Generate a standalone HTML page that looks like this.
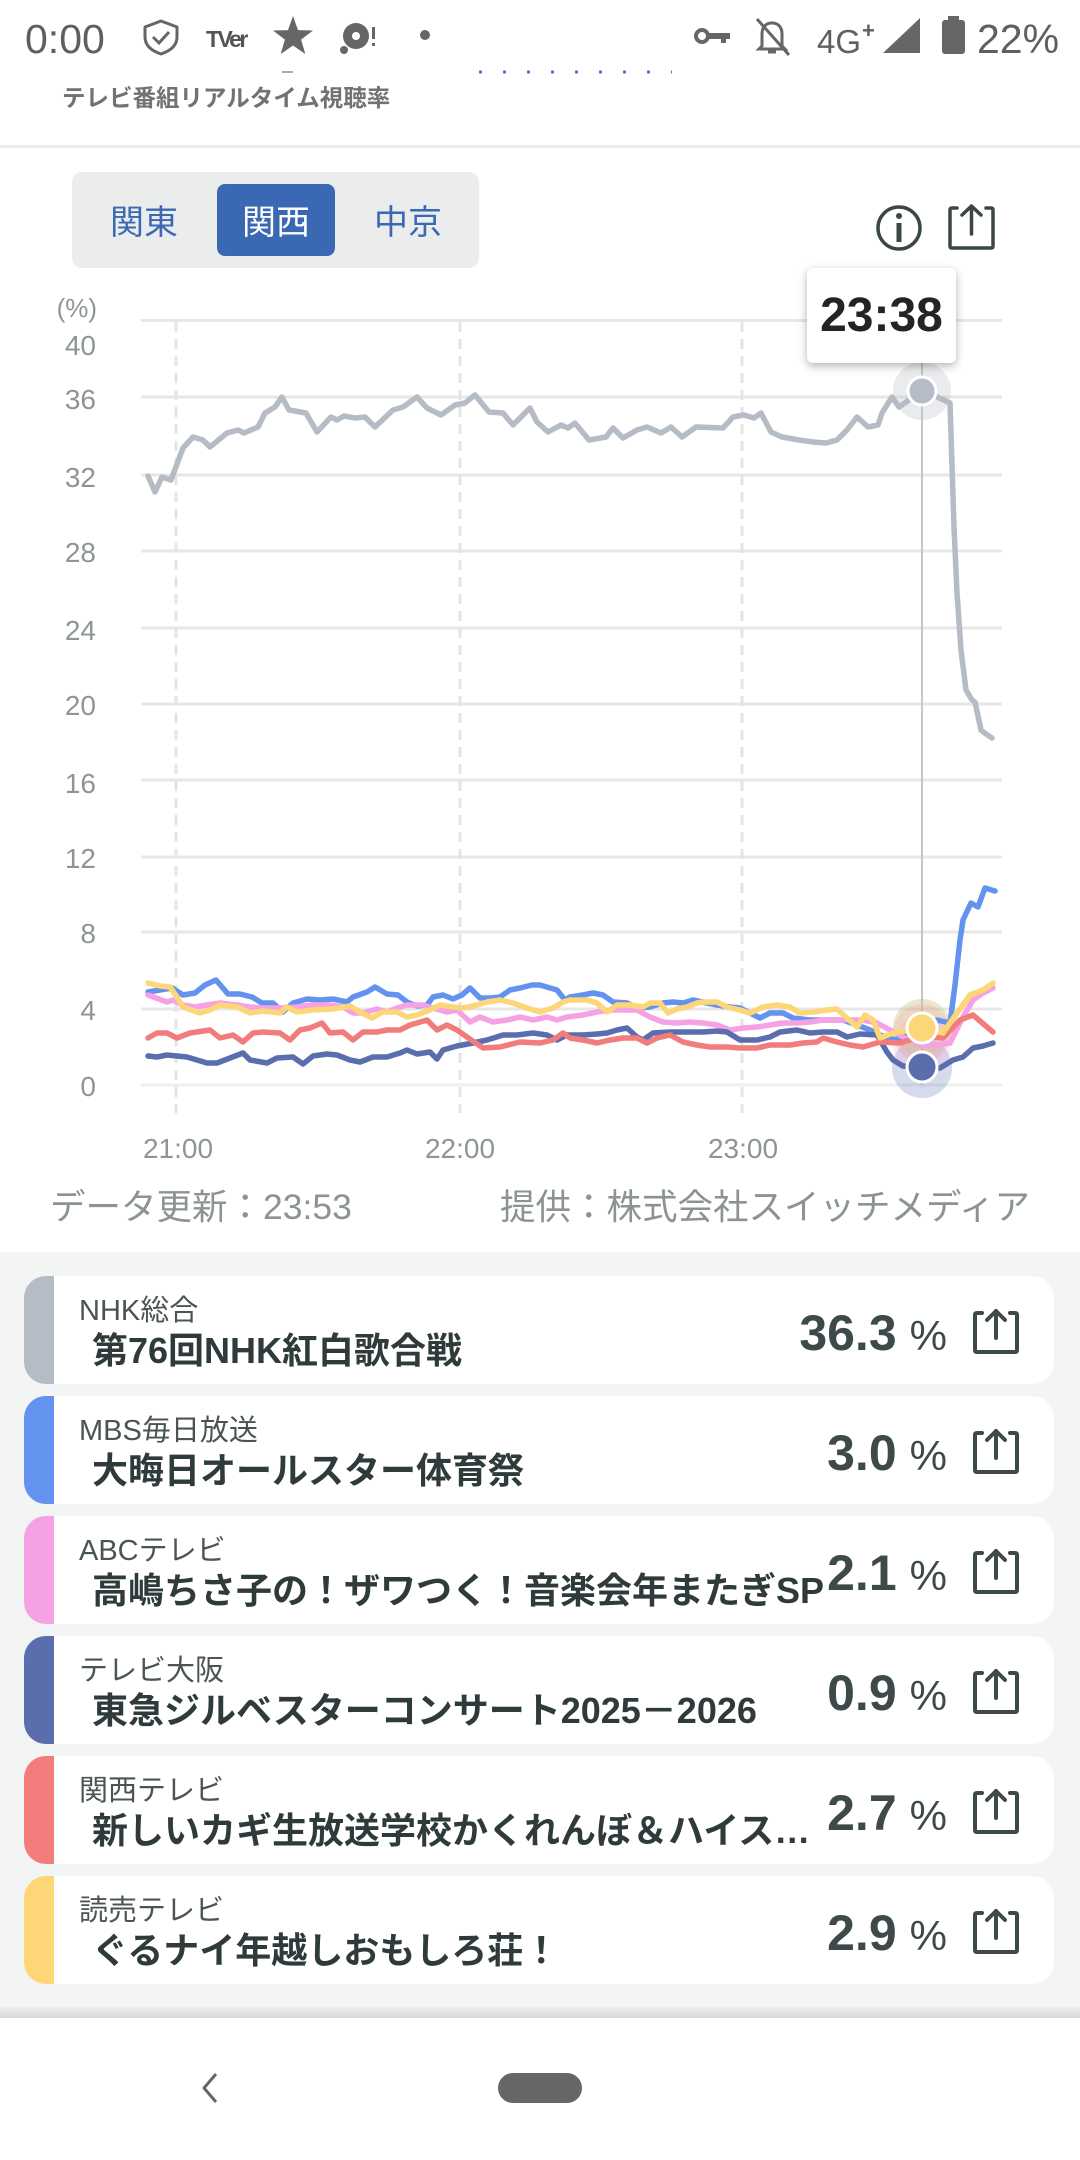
<!DOCTYPE html>
<html><head><meta charset="utf-8">
<style>
*{margin:0;padding:0;box-sizing:border-box}
html,body{width:1080px;height:2160px;overflow:hidden;background:#fff}
body{position:relative;font-family:"Liberation Sans","Noto Sans CJK JP",sans-serif}
.a{position:absolute;white-space:nowrap}
.card{position:absolute;left:24px;width:1030px;height:108px;background:#fff;border-radius:22px;overflow:hidden}
.bar{position:absolute;left:0;top:0;width:30px;height:108px}
.ch{position:absolute;left:55px;top:15px;height:40px;line-height:40px;font-size:29px;color:#4b5454;white-space:nowrap}
.tt{position:absolute;left:68px;top:53px;height:44px;line-height:44px;font-size:36px;font-weight:bold;color:#2f3b3b;white-space:nowrap}
.pc{position:absolute;right:107px;top:27px;height:60px;line-height:60px;color:#3e4a4a;white-space:nowrap;text-align:right}
.pc b{font-size:50px}
.pc span{font-size:42px;margin-left:13px}
.ic{position:absolute;left:949px;top:32px;width:46px;height:46px}
</style></head>
<body>

<!-- status bar & header -->
<svg class="a" style="left:0;top:0" width="1080" height="150" viewBox="0 0 1080 150">
  <text x="25" y="53" font-family="Liberation Sans" font-size="41" fill="#5f5f5f">0:00</text>
  <path d="M161 21 L145 27 V37 C145 46 152 51 161 54 C170 51 177 46 177 37 V27 Z" fill="none" stroke="#666" stroke-width="3" stroke-linejoin="round"/>
  <path d="M153 37 L159 43 L169 32" fill="none" stroke="#666" stroke-width="3"/>
  <text x="206" y="47" font-family="Liberation Sans" font-size="23" font-weight="bold" fill="#555" letter-spacing="-2.5">TVer</text>
  <polygon points="293,16 298,30.1 313,30.5 301.1,39.6 305.3,54 293,45.5 280.7,54 284.9,39.6 273,30.5 288,30.1" fill="#666"/>
  <circle cx="356" cy="36" r="13" fill="#666"/><circle cx="356" cy="36" r="4" fill="#fff"/>
  <circle cx="344" cy="50" r="4" fill="#666"/>
  <rect x="372" y="27" width="3" height="12" fill="#666"/><rect x="372" y="43" width="3" height="3" fill="#666"/>
  <circle cx="425" cy="35" r="5" fill="#666"/>
  <!-- right -->
  <circle cx="702" cy="36" r="6" fill="none" stroke="#666" stroke-width="4"/>
  <path d="M708 33 H730 V39 H726 V43 H721 V39 H708 Z" fill="#666"/>
  <path d="M762 46 V34 C762 26 767 23 772 23 C777 23 782 26 782 34 V46 L785 49 H759 Z" fill="none" stroke="#666" stroke-width="3"/>
  <path d="M768 52 H776" stroke="#666" stroke-width="3"/>
  <path d="M757 19 L789 55" stroke="#666" stroke-width="3"/>
  <text x="817" y="53" font-family="Liberation Sans" font-size="33" fill="#5f5f5f">4G</text>
  <text x="862" y="38" font-family="Liberation Sans" font-size="22" font-weight="bold" fill="#5f5f5f">+</text>
  <polygon points="883,53 920,53 920,18" fill="#666"/>
  <rect x="948" y="16" width="11" height="6" fill="#666"/>
  <rect x="942" y="20" width="23" height="34" rx="3" fill="#666"/>
  <text x="977" y="53" font-family="Liberation Sans" font-size="41" fill="#5f5f5f">22%</text>
  <!-- cut-off fragments -->
  <line x1="282" y1="72" x2="293" y2="72" stroke="#aaa" stroke-width="2"/>
  <line x1="479" y1="72" x2="672" y2="72" stroke="#4a74c4" stroke-width="3" stroke-dasharray="3 21"/>
</svg>
<div class="a" style="left:62px;top:84px;height:28px;line-height:28px;font-size:23.5px;font-weight:bold;color:#727272">テレビ番組リアルタイム視聴率</div>
<div class="a" style="left:0;top:145px;width:1080px;height:3px;background:#ececec"></div>

<!-- tabs -->
<div class="a" style="left:72px;top:172px;width:407px;height:96px;border-radius:10px;background:#ebeded"></div>
<div class="a" style="left:217px;top:184px;width:118px;height:72px;border-radius:8px;background:#3a68b3"></div>
<div class="a" style="left:94px;top:201px;width:100px;height:44px;line-height:44px;font-size:34px;color:#3a68b3;text-align:center">関東</div>
<div class="a" style="left:226px;top:201px;width:100px;height:44px;line-height:44px;font-size:34px;color:#fff;text-align:center">関西</div>
<div class="a" style="left:358px;top:201px;width:100px;height:44px;line-height:44px;font-size:34px;color:#3a68b3;text-align:center">中京</div>

<!-- info & share icons -->
<svg class="a" style="left:870px;top:198px" width="140" height="60" viewBox="870 198 140 60">
  <circle cx="899" cy="228" r="21" fill="none" stroke="#3b4747" stroke-width="3.5"/>
  <circle cx="899" cy="216" r="3" fill="#3b4747"/>
  <line x1="899" y1="223" x2="899" y2="242" stroke="#3b4747" stroke-width="5"/>
  <g transform="translate(948,203)">
    <path d="M9 5 H4 Q2 5 2 7 V43 Q2 45 4 45 H43 Q45 45 45 43 V7 Q45 5 43 5 H38" fill="none" stroke="#3b4747" stroke-width="3.5" stroke-linecap="round" stroke-linejoin="round"/>
    <path d="M23.5 31 V3 M14 12 L23.5 3 L33 12" fill="none" stroke="#3b4747" stroke-width="3.5" stroke-linecap="round" stroke-linejoin="round"/>
  </g>
</svg>

<!-- chart -->
<svg class="a" style="left:0;top:280px" width="1080" height="960" viewBox="0 280 1080 960">
  <g stroke="#e7e7e7" stroke-width="3">
    <line x1="141" y1="320.5" x2="1002" y2="320.5"/>
    <line x1="141" y1="397" x2="1002" y2="397"/>
    <line x1="141" y1="475" x2="1002" y2="475"/>
    <line x1="141" y1="551" x2="1002" y2="551"/>
    <line x1="141" y1="628" x2="1002" y2="628"/>
    <line x1="141" y1="704" x2="1002" y2="704"/>
    <line x1="141" y1="780" x2="1002" y2="780"/>
    <line x1="141" y1="857" x2="1002" y2="857"/>
    <line x1="141" y1="932" x2="1002" y2="932"/>
    <line x1="141" y1="1009" x2="1002" y2="1009"/>
    <line x1="141" y1="1085" x2="1002" y2="1085" stroke="#efefef"/>
  </g>
  <g stroke="#e4e4e4" stroke-width="3" stroke-dasharray="10 7">
    <line x1="176" y1="322" x2="176" y2="1113"/>
    <line x1="460" y1="322" x2="460" y2="1113"/>
    <line x1="742" y1="322" x2="742" y2="1113"/>
  </g>
  <g font-family="Liberation Sans" font-size="28" fill="#8e9595" text-anchor="end">
    <text x="97" y="317" font-size="26">(%)</text>
    <text x="96" y="355">40</text>
    <text x="96" y="409">36</text>
    <text x="96" y="487">32</text>
    <text x="96" y="562">28</text>
    <text x="96" y="640">24</text>
    <text x="96" y="715">20</text>
    <text x="96" y="793">16</text>
    <text x="96" y="868">12</text>
    <text x="96" y="943">8</text>
    <text x="96" y="1020">4</text>
    <text x="96" y="1096">0</text>
  </g>
  <g font-family="Liberation Sans" font-size="28" fill="#8e9595" text-anchor="middle">
    <text x="178" y="1158">21:00</text>
    <text x="460" y="1158">22:00</text>
    <text x="743" y="1158">23:00</text>
  </g>
  <!-- cursor -->
  <line x1="922" y1="360" x2="922" y2="1085" stroke="#c6c6c6" stroke-width="2"/>
  <!-- halos -->
  <circle cx="922" cy="391" r="29" fill="#b5bcc5" opacity="0.3"/>
  <circle cx="922" cy="1068" r="30" fill="#5a6eae" opacity="0.25"/>
  <circle cx="922" cy="1028" r="29" fill="#6393ee" opacity="0.18"/>
  <circle cx="922" cy="1045" r="29" fill="#f5a1e3" opacity="0.2"/>
  <circle cx="922" cy="1033" r="29" fill="#f27c7c" opacity="0.2"/>
  <circle cx="922" cy="1028" r="29" fill="#fdd677" opacity="0.3"/>
  <g fill="none" stroke-width="5.5" stroke-linejoin="round" stroke-linecap="round">
    <polyline stroke="#b5bcc5" points="148,476 155,492 162,477 171,480 183,448 193,437 203,440 210,447 227,433 238,430 244,433 258,427 265,413 275,407 282,397 289,410 306,413 317,432 331,417 337,420 344,416 355,418 365,417 375,427 393,410 403,407 417,397 427,408 441,415 455,405 465,403 475,395 489,412 503,413 513,425 530,408 537,422 548,432 561,425 568,428 575,423 589,440 606,437 613,428 623,438 637,430 647,427 661,433 671,427 682,437 696,427 723,428 733,417 744,415 754,418 761,413 771,432 782,437 799,440 813,442 826,443 837,440 847,430 857,417 868,427 878,425 882,413 892,397 899,407 909,400 923,391 937,397 950,403 954,527 957,593 961,650 966,690 972,700 975,702 981,730 986,734 992,738"/>
    <polyline stroke="#6393ee" points="148,992 172,988 183,995 195,993 205,985 216,980 228,994 240,994 252,997 262,1003 273,1003 283,1012 293,1003 307,999 320,1000 333,999 347,1002 353,997 367,992 375,987 387,994 398,995 407,1002 417,1006 427,1005 433,997 443,995 453,999 462,995 470,988 480,998 490,998 500,997 510,990 520,988 532,985 540,985 557,990 565,1000 570,997 583,995 593,993 603,995 613,1002 627,1003 637,1008 650,1007 663,1003 673,1002 683,1003 693,1000 707,1003 717,1005 730,1007 740,1008 750,1013 760,1018 770,1013 783,1013 793,1018 810,1020 827,1020 843,1020 857,1025 870,1030 880,1035 895,1040 910,1032 922,1028 937,1020 950,1023 955,985 960,940 963,920 971,903 978,907 985,888 995,891"/>
    <polyline stroke="#f5a1e3" points="148,995 167,1002 173,1000 183,1005 195,1007 207,1005 220,1003 237,1005 250,1007 263,1008 280,1008 297,1007 313,1005 330,1005 343,1007 353,1013 363,1013 377,1009 387,1012 397,1008 407,1005 423,1005 433,1008 447,1012 457,1010 470,1022 480,1017 493,1022 507,1020 520,1017 533,1020 547,1017 557,1020 567,1017 583,1015 597,1012 610,1010 623,1010 637,1010 650,1017 663,1022 677,1023 690,1022 703,1023 717,1025 730,1030 743,1028 757,1027 770,1025 783,1023 797,1023 810,1022 823,1020 837,1020 850,1020 863,1020 877,1023 890,1030 905,1038 922,1045 937,1045 950,1043 963,1017 973,1000 983,993 993,988"/>
    <polyline stroke="#5a6eae" points="148,1056 157,1057 167,1055 177,1056 187,1057 207,1063 217,1063 230,1058 243,1053 250,1060 267,1063 277,1058 293,1057 303,1064 313,1056 327,1054 337,1055 350,1060 360,1062 373,1057 387,1057 400,1053 407,1050 417,1054 430,1052 437,1059 443,1050 457,1046 473,1043 487,1040 503,1035 517,1035 533,1033 547,1035 557,1040 567,1035 583,1035 597,1034 607,1033 617,1030 627,1028 637,1037 643,1040 653,1033 670,1032 687,1032 703,1032 717,1031 727,1032 740,1040 757,1040 770,1037 780,1032 797,1030 810,1033 823,1032 837,1032 847,1037 860,1034 877,1035 887,1052 893,1060 903,1066 922,1068 940,1068 953,1060 963,1057 973,1048 983,1046 993,1043"/>
    <polyline stroke="#f27c7c" points="148,1038 157,1033 167,1033 177,1038 190,1033 210,1030 220,1038 233,1035 243,1042 253,1033 263,1032 280,1033 290,1040 300,1030 310,1028 322,1023 330,1033 343,1032 353,1040 363,1032 377,1032 387,1030 400,1030 410,1025 427,1020 437,1030 447,1025 457,1030 467,1037 483,1048 500,1047 520,1042 540,1043 553,1040 563,1033 570,1038 583,1040 597,1043 610,1040 623,1038 637,1038 647,1043 657,1038 670,1035 683,1042 697,1045 710,1047 727,1047 740,1048 757,1048 770,1045 790,1045 803,1043 817,1042 823,1038 837,1042 850,1045 863,1047 880,1042 900,1043 922,1036 943,1038 960,1020 973,1015 987,1027 993,1032"/>
    <polyline stroke="#fdd677" points="148,983 160,986 170,987 177,997 183,1007 200,1013 210,1010 220,1005 237,1007 250,1013 263,1011 280,1013 287,1007 297,1012 313,1010 333,1009 350,1006 360,1012 372,1018 383,1012 397,1012 407,1017 417,1015 430,1010 440,1005 453,1007 463,1008 473,1006 487,1002 500,1000 513,1003 527,1008 540,1012 553,1008 563,1002 570,1000 587,1000 597,1003 607,1012 617,1005 630,1005 643,1007 650,1003 660,1003 668,1013 677,1009 687,1007 697,1003 703,1002 717,1002 727,1007 740,1010 750,1013 763,1007 777,1005 790,1007 800,1013 813,1012 827,1010 837,1009 847,1018 857,1027 865,1015 873,1020 880,1038 893,1033 905,1031 922,1028 943,1033 957,1013 970,995 983,990 993,983"/>
  </g>
  <!-- dots -->
  <circle cx="922" cy="391" r="14" fill="#b5bcc5" stroke="#fff" stroke-width="3"/>
  <circle cx="922" cy="1067" r="15" fill="#5a6eae" stroke="#fff" stroke-width="3"/>
  <circle cx="922" cy="1028" r="15" fill="#fdd677" stroke="#fff" stroke-width="3"/>
</svg>

<!-- tooltip -->
<div class="a" style="left:807px;top:268px;width:149px;height:95px;background:#fff;border-radius:6px;box-shadow:0 3px 9px rgba(0,0,0,0.3)"></div>
<div class="a" style="left:807px;top:286px;width:149px;height:60px;line-height:60px;text-align:center;font-size:48px;font-weight:bold;color:#242424">23:38</div>

<!-- footer of chart -->
<div class="a" style="left:50px;top:1186px;height:42px;line-height:42px;font-size:35.5px;color:#8b9393">データ更新：23:53</div>
<div class="a" style="right:50px;top:1186px;height:42px;line-height:42px;font-size:35.5px;color:#8b9393">提供：株式会社スイッチメディア</div>

<!-- list -->
<div class="a" style="left:0;top:1252px;width:1080px;height:756px;background:#f3f5f4"></div>

<div class="card" style="top:1276px"><div class="bar" style="background:#b5bcc5"></div>
<div class="ch">NHK総合</div><div class="tt">第76回NHK紅白歌合戦</div>
<div class="pc"><b>36.3</b><span>%</span></div>
<svg class="ic" viewBox="0 0 46 46"><path d="M9 5 H4 Q2 5 2 7 V42 Q2 44 4 44 H42 Q44 44 44 42 V7 Q44 5 42 5 H37" fill="none" stroke="#3e4a4a" stroke-width="4" stroke-linecap="round" stroke-linejoin="round"/><path d="M23 30 V3 M14 12 L23 3 L32 12" fill="none" stroke="#3e4a4a" stroke-width="4" stroke-linecap="round" stroke-linejoin="round"/></svg></div>

<div class="card" style="top:1396px"><div class="bar" style="background:#6393ee"></div>
<div class="ch">MBS毎日放送</div><div class="tt">大晦日オールスター体育祭</div>
<div class="pc"><b>3.0</b><span>%</span></div>
<svg class="ic" viewBox="0 0 46 46"><path d="M9 5 H4 Q2 5 2 7 V42 Q2 44 4 44 H42 Q44 44 44 42 V7 Q44 5 42 5 H37" fill="none" stroke="#3e4a4a" stroke-width="4" stroke-linecap="round" stroke-linejoin="round"/><path d="M23 30 V3 M14 12 L23 3 L32 12" fill="none" stroke="#3e4a4a" stroke-width="4" stroke-linecap="round" stroke-linejoin="round"/></svg></div>

<div class="card" style="top:1516px"><div class="bar" style="background:#f5a1e3"></div>
<div class="ch">ABCテレビ</div><div class="tt">高嶋ちさ子の！ザワつく！音楽会年またぎSP</div>
<div class="pc"><b>2.1</b><span>%</span></div>
<svg class="ic" viewBox="0 0 46 46"><path d="M9 5 H4 Q2 5 2 7 V42 Q2 44 4 44 H42 Q44 44 44 42 V7 Q44 5 42 5 H37" fill="none" stroke="#3e4a4a" stroke-width="4" stroke-linecap="round" stroke-linejoin="round"/><path d="M23 30 V3 M14 12 L23 3 L32 12" fill="none" stroke="#3e4a4a" stroke-width="4" stroke-linecap="round" stroke-linejoin="round"/></svg></div>

<div class="card" style="top:1636px"><div class="bar" style="background:#5a6eae"></div>
<div class="ch">テレビ大阪</div><div class="tt">東急ジルベスターコンサート2025－2026</div>
<div class="pc"><b>0.9</b><span>%</span></div>
<svg class="ic" viewBox="0 0 46 46"><path d="M9 5 H4 Q2 5 2 7 V42 Q2 44 4 44 H42 Q44 44 44 42 V7 Q44 5 42 5 H37" fill="none" stroke="#3e4a4a" stroke-width="4" stroke-linecap="round" stroke-linejoin="round"/><path d="M23 30 V3 M14 12 L23 3 L32 12" fill="none" stroke="#3e4a4a" stroke-width="4" stroke-linecap="round" stroke-linejoin="round"/></svg></div>

<div class="card" style="top:1756px"><div class="bar" style="background:#f27c7c"></div>
<div class="ch">関西テレビ</div><div class="tt">新しいカギ生放送学校かくれんぼ＆ハイス…</div>
<div class="pc"><b>2.7</b><span>%</span></div>
<svg class="ic" viewBox="0 0 46 46"><path d="M9 5 H4 Q2 5 2 7 V42 Q2 44 4 44 H42 Q44 44 44 42 V7 Q44 5 42 5 H37" fill="none" stroke="#3e4a4a" stroke-width="4" stroke-linecap="round" stroke-linejoin="round"/><path d="M23 30 V3 M14 12 L23 3 L32 12" fill="none" stroke="#3e4a4a" stroke-width="4" stroke-linecap="round" stroke-linejoin="round"/></svg></div>

<div class="card" style="top:1876px"><div class="bar" style="background:#fdd677"></div>
<div class="ch">読売テレビ</div><div class="tt">ぐるナイ年越しおもしろ荘！</div>
<div class="pc"><b>2.9</b><span>%</span></div>
<svg class="ic" viewBox="0 0 46 46"><path d="M9 5 H4 Q2 5 2 7 V42 Q2 44 4 44 H42 Q44 44 44 42 V7 Q44 5 42 5 H37" fill="none" stroke="#3e4a4a" stroke-width="4" stroke-linecap="round" stroke-linejoin="round"/><path d="M23 30 V3 M14 12 L23 3 L32 12" fill="none" stroke="#3e4a4a" stroke-width="4" stroke-linecap="round" stroke-linejoin="round"/></svg></div>

<!-- nav bar -->
<div class="a" style="left:0;top:2007px;width:1080px;height:11px;background:linear-gradient(#eeeeee,#d8d8d8)"></div>
<div class="a" style="left:0;top:2018px;width:1080px;height:142px;background:#fff"></div>
<svg class="a" style="left:190px;top:2065px" width="400" height="45" viewBox="190 2065 400 45">
  <polyline points="216,2074 204,2088 216,2102" fill="none" stroke="#666" stroke-width="3" stroke-linejoin="round"/>
  <rect x="498" y="2073" width="84" height="30" rx="15" fill="#666"/>
</svg>

</body></html>
